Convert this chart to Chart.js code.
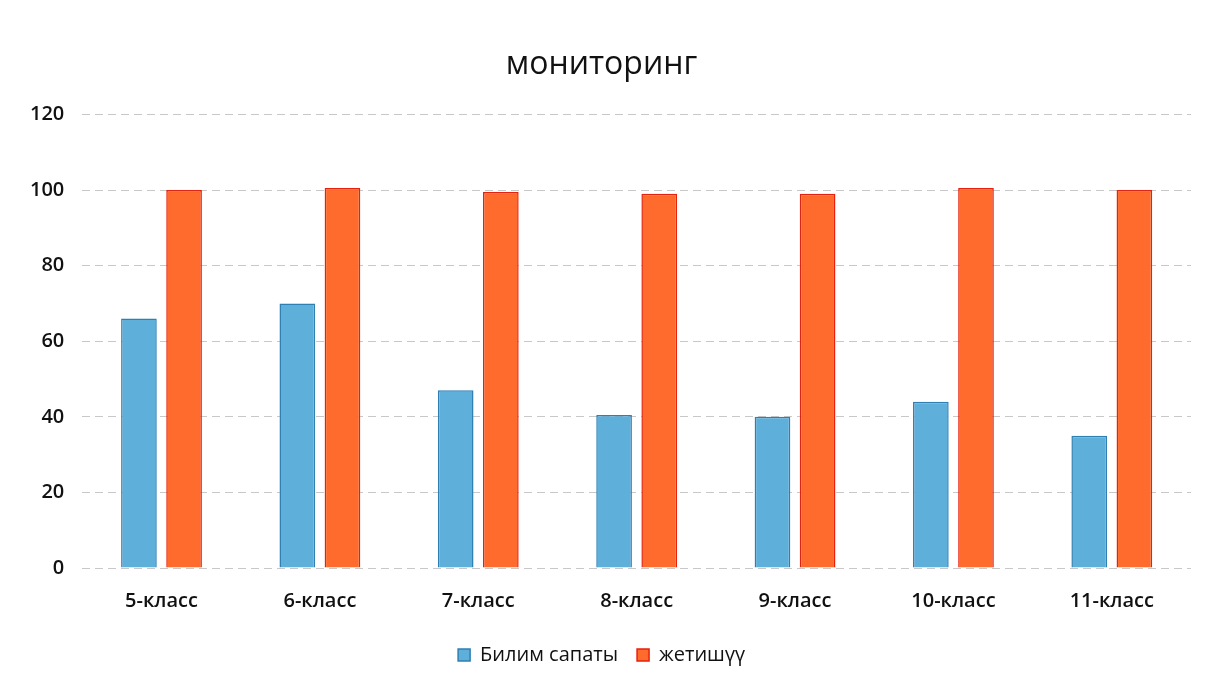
<!DOCTYPE html>
<html>
<head>
<meta charset="utf-8">
<script src="https://cdn.jsdelivr.net/npm/chart.js@4.4.1/dist/chart.umd.min.js"></script>
<style>
  html, body { margin: 0; padding: 0; background: #fff; }
  #wrap { width: 1211px; height: 685px; }
</style>
</head>
<body>
<div id="wrap"><canvas id="monitoringChart"></canvas></div>
<script>
const classes = ['5-класс', '6-класс', '7-класс', '8-класс', '9-класс', '10-класс', '11-класс'];
const bilimSapaty = [66, 70, 47, 40.5, 40, 44, 35];
const jetishuu = [100, 100.5, 99.5, 99, 99, 100.5, 100];
const yTicks = [0, 20, 40, 60, 80, 100, 120];

const ctx = document.getElementById('monitoringChart').getContext('2d');
new Chart(ctx, {
    type: 'bar',
    data: {
        labels: classes,
        datasets: [{
            label: 'Билим сапаты',
            data: bilimSapaty,
            backgroundColor: '#5fafdb',
            borderColor: '#2f7fb3',
            borderWidth: 1.5,
            barPercentage: 0.79,
            categoryPercentage: 0.57
        }, {
            label: 'жетишүү',
            data: jetishuu,
            backgroundColor: '#ff6b2c',
            borderColor: '#e8200c',
            borderWidth: 1.5,
            barPercentage: 0.79,
            categoryPercentage: 0.57
        }]
    },
    options: {
        responsive: true,
        maintainAspectRatio: false,
        animation: false,
        layout: { padding: { left: 12, right: 20, top: 32, bottom: 10 } },
        plugins: {
            title: {
                display: true,
                text: 'мониторинг',
                color: '#111',
                font: { family: 'Open Sans', size: 32, weight: 'normal' },
                padding: { top: 14, bottom: 30 }
            },
            legend: {
                position: 'bottom',
                labels: {
                    color: '#111',
                    font: { family: 'Open Sans', size: 20 },
                    boxWidth: 12,
                    boxHeight: 12,
                    padding: 19
                }
            },
            tooltip: { enabled: false }
        },
        scales: {
            x: {
                grid: { display: false },
                border: { display: false },
                ticks: {
                    color: '#111',
                    font: { family: 'Open Sans', size: 20, weight: '600' },
                    padding: 13
                }
            },
            y: {
                min: 0,
                max: 120,
                afterBuildTicks: axis => { axis.ticks = yTicks.map(v => ({ value: v })); },
                grid: { color: '#c8c8c8', lineWidth: 1, drawTicks: false },
                border: { display: false, dash: [8, 5] },
                ticks: {
                    color: '#111',
                    font: { family: 'Open Sans', size: 20, weight: '600' },
                    padding: 18
                }
            }
        }
    }
});
</script>
</body>
</html>
